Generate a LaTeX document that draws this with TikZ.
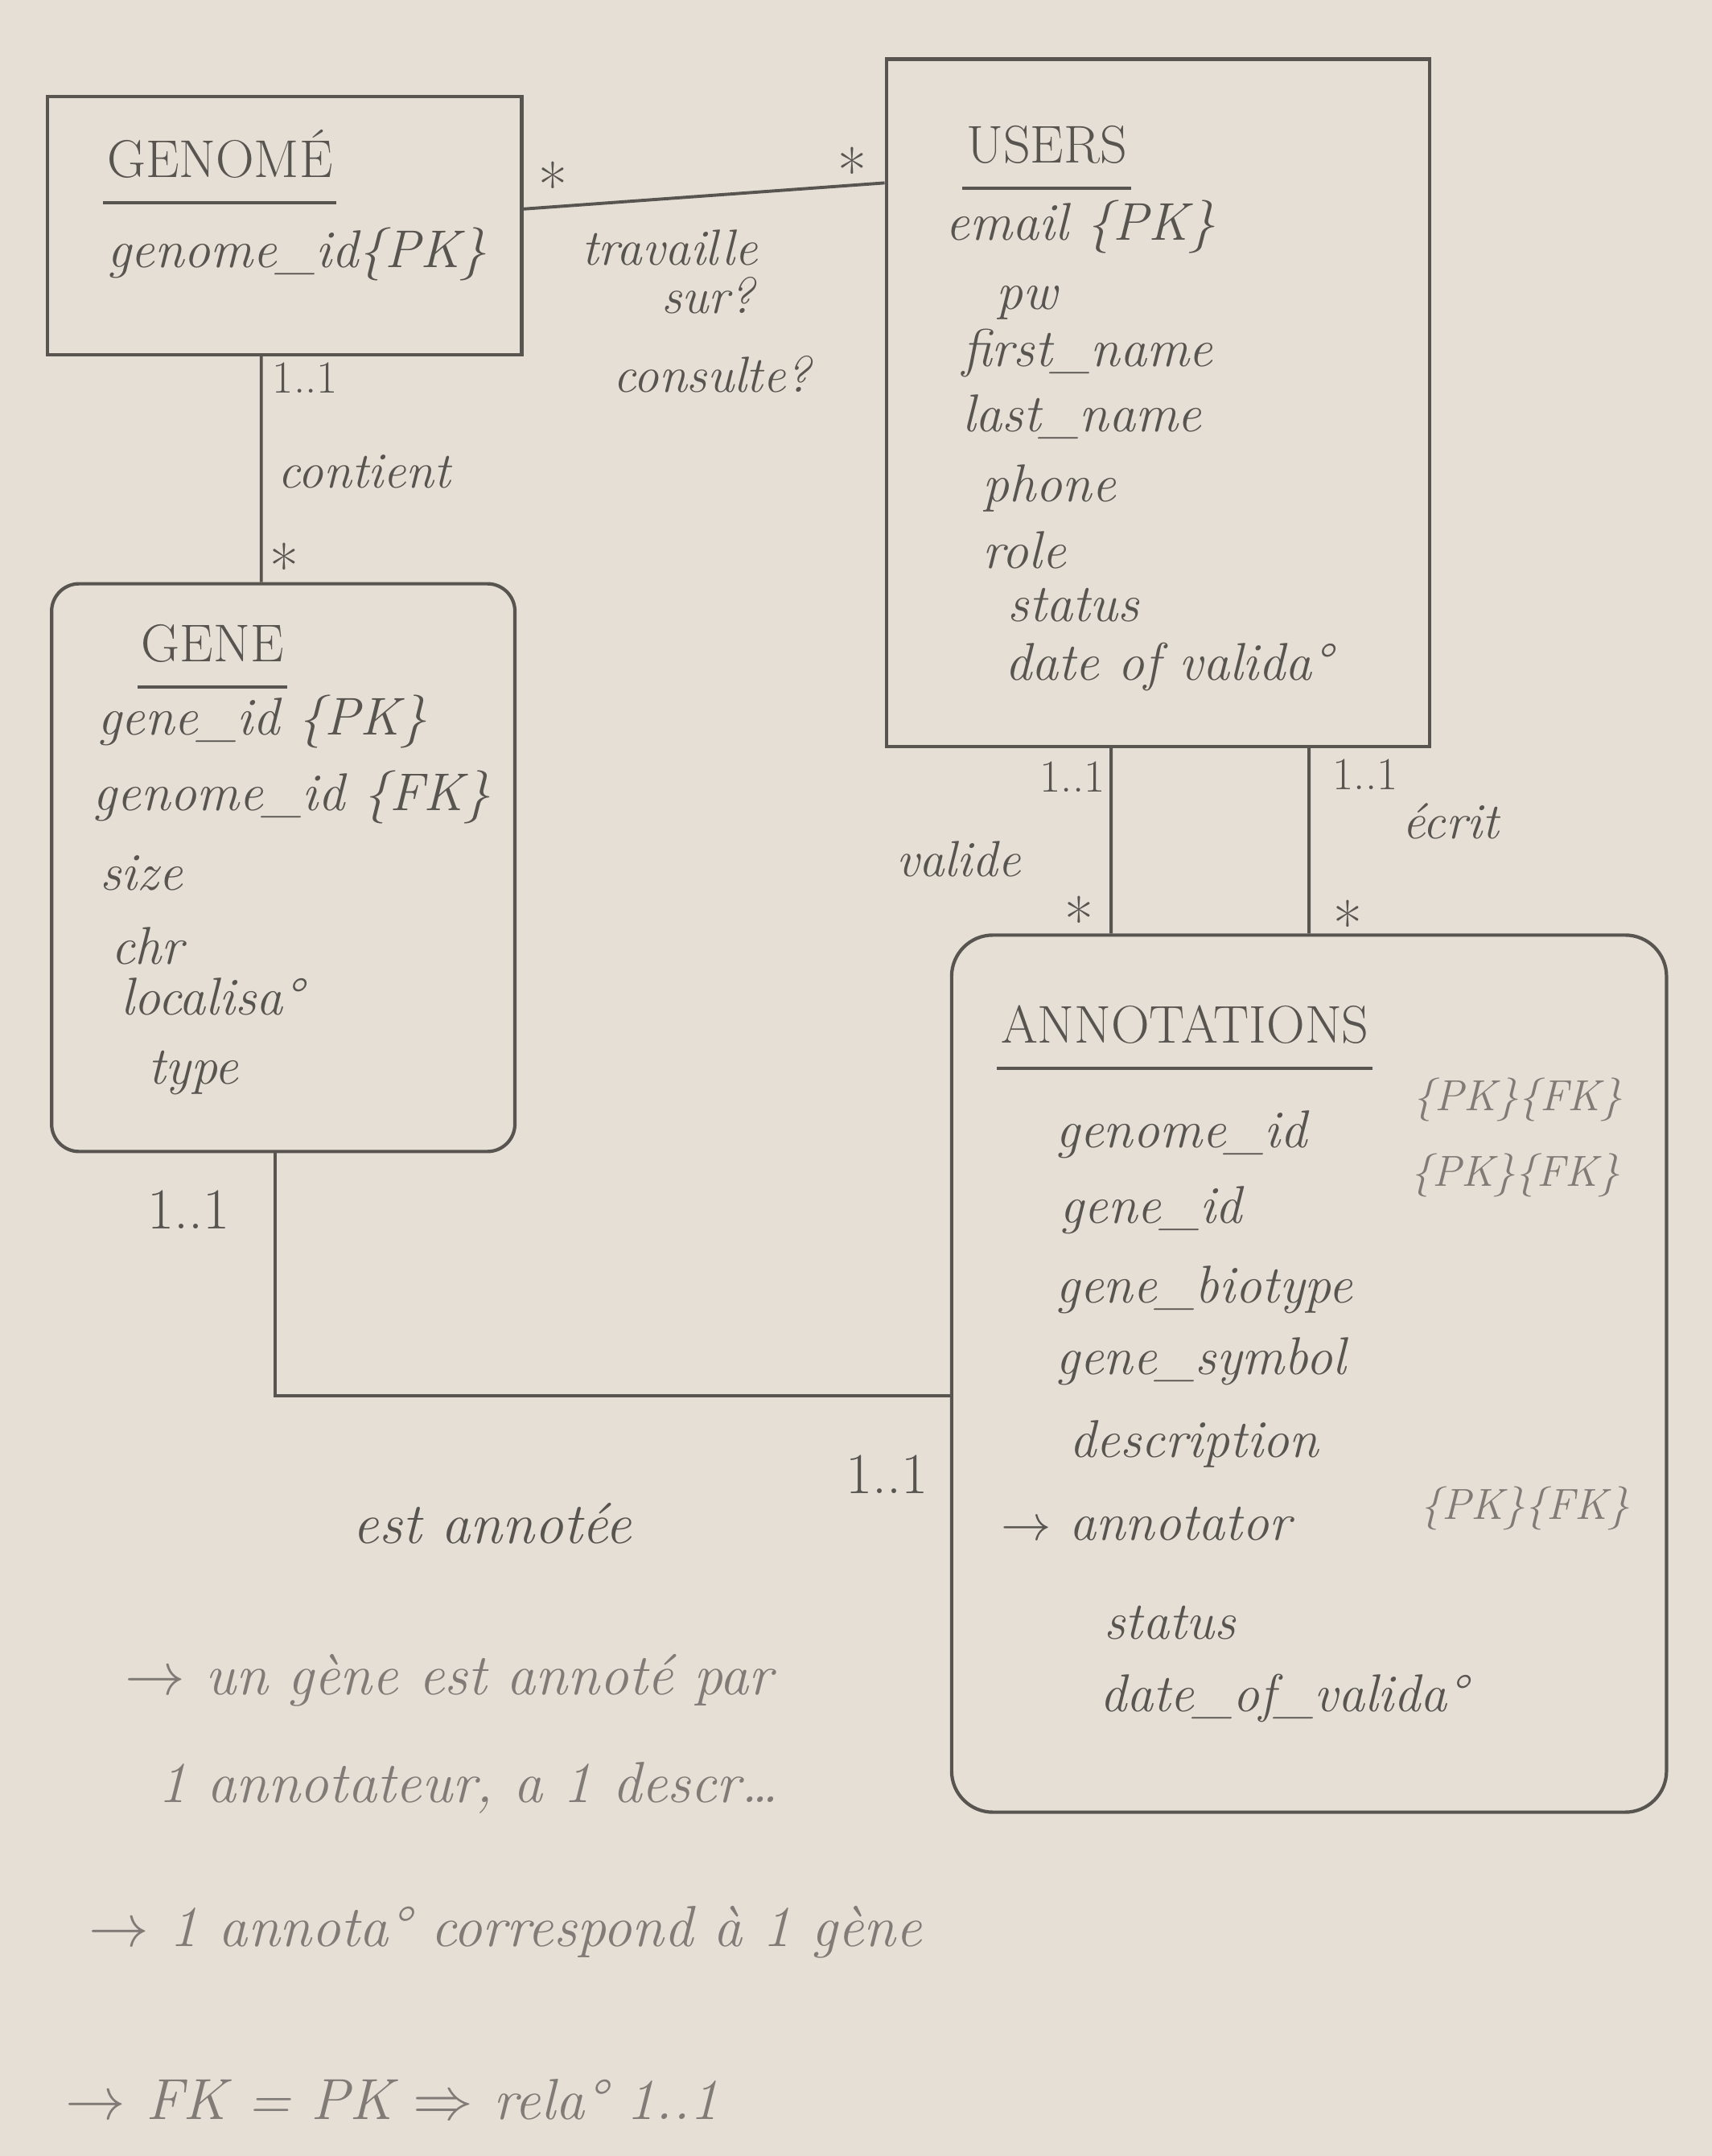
\documentclass[tikz,border=0pt]{standalone}
\usepackage{fontspec}
\usepackage{tikz}
\definecolor{paper}{RGB}{229,223,214}
\definecolor{pencil}{RGB}{88,84,80}
\definecolor{lightpencil}{RGB}{128,123,118}
\tikzset{
  entity/.style={draw=pencil,line width=1.4pt},
  title/.style={anchor=west,text=pencil,font=\fontsize{22}{26}\selectfont},
  attr/.style={anchor=west,text=pencil,font=\fontsize{22}{26}\selectfont\itshape},
  keys/.style={anchor=west,text=lightpencil,font=\fontsize{18}{21}\selectfont\itshape},
  rel/.style={text=pencil,font=\fontsize{21}{25}\selectfont\itshape},
  mult/.style={text=pencil,font=\fontsize{19}{22}\selectfont},
  star/.style={text=pencil,font=\fontsize{26}{30}\selectfont},
  note/.style={anchor=west,text=lightpencil,font=\fontsize{24}{28}\selectfont\itshape},
  link/.style={draw=pencil,line width=1.3pt}
}

\begin{document}
\begin{tikzpicture}[x=0.02cm,y=-0.02cm,inner sep=.5mm]
\fill[paper] (0,0) rectangle (1245,1568);
\node at (207,164) [entity,minimum width=6.9cm,minimum height=3.76cm] (Genome) {};
\node at (842,293) [entity,minimum width=7.9cm,minimum height=10cm] (Users) {};
\node at (206,631) [entity,rounded corners=4mm,minimum width=6.74cm,minimum height=8.26cm] (Gene) {};
\node at (952,999) [entity,rounded corners=6mm,minimum width=10.4cm,minimum height=12.76cm] (Annot) {};

\node at (75,112) [title] (tGenome) {GENOMÉ};
\draw[link] ([yshift=-3mm]tGenome.south west) -- ([yshift=-3mm]tGenome.south east);
\node at (75,185) [attr] (aGenome1) {genome\_id\{PK\}};

\node at (700,105) [title] (tUsers) {USERS};
\draw[link] ([yshift=-3mm]tUsers.south west) -- ([yshift=-3mm]tUsers.south east);
\node at (685,165) [attr] (aUsers1) {email \{PK\}};
\node at (722,220) [attr] (aUsers2) {pw};
\node at (697,257) [attr] (aUsers3) {first\_name};
\node at (697,303) [attr] (aUsers4) {last\_name};
\node at (712,355) [attr] (aUsers5) {phone};
\node at (712,400) [attr] (aUsers6) {role};
\node at (730,440) [attr] (aUsers7) {status};
\node at (728,485) [attr] (aUsers8) {date of valida°};

\node at (100,468) [title] (tGene) {GENE};
\draw[link] ([yshift=-3mm]tGene.south west) -- ([yshift=-3mm]tGene.south east);
\node at (68,525) [attr] (aGene1) {gene\_id \{PK\}};
\node at (65,580) [attr] (aGene2) {genome\_id \{FK\}};
\node at (70,635) [attr] (aGene3) {size};
\node at (78,688) [attr] (aGene4) {chr};
\node at (85,725) [attr] (aGene5) {localisa°};
\node at (105,780) [attr] (aGene6) {type};

\node at (725,745) [title] (tAnnot) {ANNOTATIONS};
\draw[link] ([yshift=-3mm]tAnnot.south west) -- ([yshift=-3mm]tAnnot.south east);
\node at (765,825) [attr] (aAnnot1) {genome\_id};
\node at (1025,800) [keys] (kAnnot1) {\{PK\}\{FK\}};
\node at (768,880) [attr] (aAnnot2) {gene\_id};
\node at (1023,855) [keys] (kAnnot2) {\{PK\}\{FK\}};
\node at (765,938) [attr] (aAnnot3) {gene\_biotype};
\node at (765,990) [attr] (aAnnot4) {gene\_symbol};
\node at (775,1050) [attr] (aAnnot5) {description};
\node at (725,1108) [attr] (aAnnot6) {$\rightarrow$ annotator};
\node at (1030,1097) [keys] (kAnnot6) {\{PK\}\{FK\}};
\node at (800,1180) [attr] (aAnnot7) {status};
\node at (797,1235) [attr] (aAnnot8) {date\_of\_valida°};

\draw[link] ([yshift=.24cm]Genome.east) -- ([yshift=3.2cm]Users.west);
\draw[link] ([xshift=-.34cm]Genome.south) -- ([xshift=-.32cm]Gene.north);
\draw[link] ([xshift=-.68cm]Users.south) -- ([xshift=-2.88cm]Annot.north);
\draw[link] ([xshift=2.2cm]Users.south) -- (Annot.north);
\draw[link] ([xshift=-.12cm]Gene.south) |- ([yshift=-.32cm]Annot.west);

\node at (402,135) [star] (mGU1) {*};
\node at (620,124) [star] (mGU2) {*};
\node at (487,180) [rel] (rGU1) {travaille};
\node at (515,215) [rel] (rGU2) {sur?};
\node at (518,272) [rel] (rGU3) {consulte?};
\node at (222,275) [mult] (mGG1) {1..1};
\node at (265,343) [rel] (rGG) {contient};
\node at (207,412) [star] (mGG2) {*};
\node at (780,565) [mult] (mV1) {1..1};
\node at (697,625) [rel] (rV) {valide};
\node at (785,669) [star] (mV2) {*};
\node at (993,563) [mult] (mE1) {1..1};
\node at (1055,597) [rel] (rE) {écrit};
\node at (980,672) [star] (mE2) {*};
\node at (137,880) [mult,font=\fontsize{24}{28}\selectfont] (mGA1) {1..1};
\node at (645,1072) [mult,font=\fontsize{24}{28}\selectfont] (mGA2) {1..1};
\node at (358,1108) [rel,font=\fontsize{24}{28}\selectfont\itshape] (rGA) {est annotée};

\node at (88,1222) [note] (note1) {$\rightarrow$ un gène est annoté par};
\node at (112,1300) [note] (note2) {1 annotateur, a 1 descr\dots};
\node at (62,1405) [note] (note3) {$\rightarrow$ 1 annota° correspond à 1 gène};
\node at (45,1527) [note] (note4) {$\rightarrow$ FK = PK $\Rightarrow$ rela° 1..1};
\end{tikzpicture}
\end{document}
